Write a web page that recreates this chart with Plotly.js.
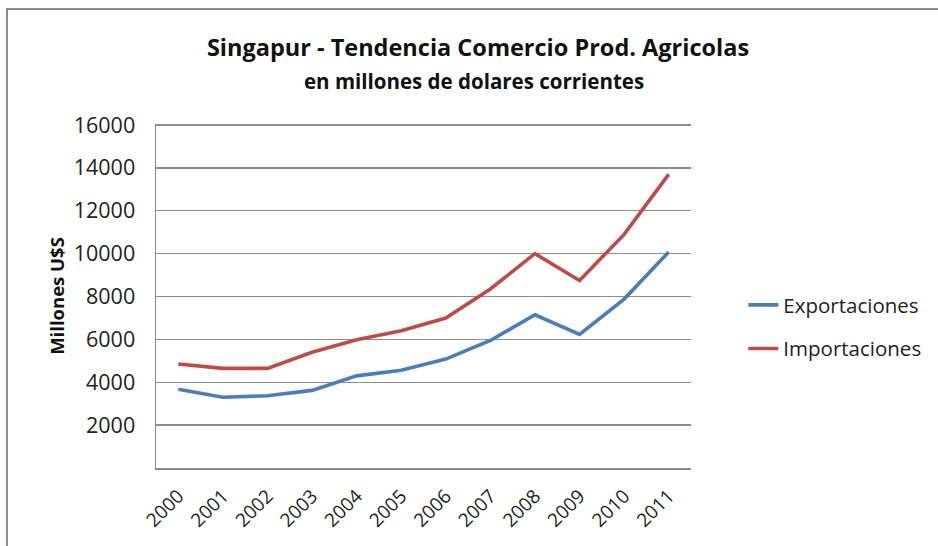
<!DOCTYPE html>
<html>
<head>
<meta charset="utf-8">
<script src="https://cdn.plot.ly/plotly-3.0.1.min.js"></script>
<style>
html,body{margin:0;padding:0;background:#fff;}
#chart{width:938px;height:546px;}
</style>
</head>
<body>
<div id="chart"></div>
<script>
const years = ["2000","2001","2002","2003","2004","2005","2006","2007","2008","2009","2010","2011"];
const exportaciones = [3670, 3300, 3370, 3620, 4300, 4560, 5080, 5950, 7150, 6230, 7880, 10080];
const importaciones = [4850, 4650, 4650, 5400, 5980, 6400, 7000, 8350, 10000, 8750, 10900, 13700];
const yTicks = [2000, 4000, 6000, 8000, 10000, 12000, 14000, 16000];

const FONT = "'Open Sans', 'Noto Sans', sans-serif";
const L = 156, R = 240, T = 124, B = 78, W = 938, H = 546;
const pw = W - L - R, ph = H - T - B;
const px = x => (x - L) / pw;
const py = y => (H - B - y) / ph;

const traces = [
  {x: years, y: exportaciones, name: "Exportaciones", type: "scatter", mode: "lines",
   line: {color: "#4A7EBB", width: 3.6}, legendgroup: "a"},
  {x: years, y: importaciones, name: "Importaciones", type: "scatter", mode: "lines",
   line: {color: "#BE4B48", width: 3.6}, legendgroup: "b"}
];

const layout = {
  width: W, height: H,
  margin: {l: L, r: R, t: T, b: B, pad: 0},
  paper_bgcolor: "#fff", plot_bgcolor: "#fff",
  font: {family: FONT, color: "#222", size: 18},
  title: {text: "Singapur - Tendencia Comercio Prod. Agricolas",
          font: {family: FONT, size: 23.5, weight: "bold", color: "#111"},
          x: 478 / W, xanchor: "center", xref: "container",
          y: 1 - 48 / H, yanchor: "middle", yref: "container"},
  xaxis: {type: "category", showgrid: false, showline: true, linecolor: "#8a8a8a", linewidth: 1.5,
          ticks: "", tickangle: -45, tickfont: {size: 19, color: "#222"},
          ticklabelstandoff: 8, fixedrange: true, range: [-0.5, 11.5]},
  yaxis: {range: [0, 16050], tickvals: yTicks, tickformat: "d", showgrid: true, gridcolor: "#8e8e8e", gridwidth: 1.3,
          showline: true, linecolor: "#8a8a8a", linewidth: 1.5, zeroline: false,
          ticks: "", tickfont: {size: 21.5, color: "#222"}, ticklabelstandoff: 15,
          title: {text: "Millones U$S", font: {size: 18.5, weight: "bold", color: "#111"}, standoff: 4}},
  legend: {x: px(751), y: py(285), xanchor: "left", yanchor: "top",
           font: {size: 20.5, color: "#222"}, traceorder: "grouped", tracegroupgap: 14,
           bgcolor: "rgba(0,0,0,0)"},
  annotations: [
    {text: "en millones de dolares corrientes", xref: "paper", yref: "paper",
     x: px(478), y: py(81), xanchor: "center", yanchor: "middle", showarrow: false,
     font: {family: FONT, size: 20.5, weight: "bold", color: "#111"}}
  ],
  shapes: [
    {type: "rect", xref: "paper", yref: "paper", x0: px(5), x1: px(960), y0: py(570), y1: py(9),
     line: {color: "#8a8a8a", width: 2}, fillcolor: "rgba(0,0,0,0)", layer: "below"}
  ]
};

Plotly.newPlot("chart", traces, layout, {displayModeBar: false, staticPlot: true});
</script>
</body>
</html>
